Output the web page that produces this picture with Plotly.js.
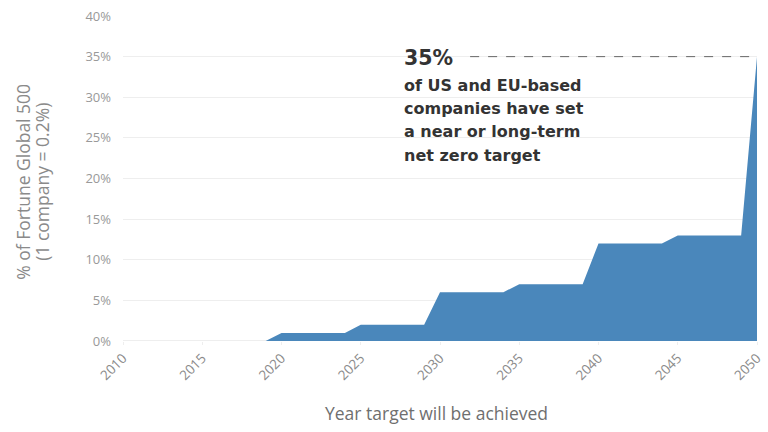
<!DOCTYPE html>
<html>
<head>
<meta charset="utf-8">
<script src="https://cdn.plot.ly/plotly-3.0.1.min.js"></script>
<style>html,body{margin:0;padding:0;background:#fff;}#chart{width:768px;height:432px;}</style>
</head>
<body>
<div id="chart"></div>
<script>
const years = [2010,2011,2012,2013,2014,2015,2016,2017,2018,2019,2020,2021,2022,2023,2024,2025,2026,2027,2028,2029,2030,2031,2032,2033,2034,2035,2036,2037,2038,2039,2040,2041,2042,2043,2044,2045,2046,2047,2048,2049,2050];
const pctSet = [0,0,0,0,0,0,0,0,0,0,1,1,1,1,1,2,2,2,2,2,6,6,6,6,6,7,7,7,7,7,12,12,12,12,12,13,13,13,13,13,35];
const xTicks = [2010,2015,2020,2025,2030,2035,2040,2045,2050];
const yTicks = [0,5,10,15,20,25,30,35,40];
const yTickLabels = ['0%','5%','10%','15%','20%','25%','30%','35%','40%'];
const yTitleLines = ['% of Fortune Global 500','(1 company = 0.2%)'];
const xTitle = 'Year target will be achieved';
const highlightValue = 35;
const highlightLabel = '35%';
const highlightText = ['of US and EU-based','companies have set','a near or long-term','net zero target'];

const trace = {
  x: years, y: pctSet, type: 'scatter', mode: 'lines',
  fill: 'tozeroy', fillcolor: '#4a87bb',
  line: {color: '#4a87bb', width: 0},
  hoverinfo: 'skip'
};

const annoFont = 'DejaVu Sans, sans-serif';
const annotations = [
  {x: 2027.7, y: 34.85, xref: 'x', yref: 'y', text: '<b>' + highlightLabel + '</b>',
   showarrow: false, xanchor: 'left', yanchor: 'middle', xshift: -2,
   font: {family: annoFont, size: 20.5, color: '#333'}}
];
highlightText.forEach((t, i) => {
  annotations.push({x: 2027.7, y: 31.5 - i * 2.87, xref: 'x', yref: 'y', text: '<b>' + t + '</b>',
    showarrow: false, xanchor: 'left', yanchor: 'middle', xshift: -2,
    font: {family: annoFont, size: 16, color: '#333'}});
});
yTitleLines.forEach((t, i) => {
  annotations.push({x: 0, y: 0.49, xref: 'paper', yref: 'paper', text: t,
    showarrow: false, textangle: -90, xanchor: 'center', yanchor: 'middle',
    xshift: -100 + i * 19,
    font: {family: 'Open Sans, sans-serif', size: 17.5, color: '#8a8a8a'}});
});
annotations.push({x: 0.495, y: 0, xref: 'paper', yref: 'paper', text: xTitle,
  showarrow: false, xanchor: 'center', yanchor: 'middle', yshift: -72,
  font: {family: 'Open Sans, sans-serif', size: 17.5, color: '#6f6f6f'}});

const layout = {
  width: 768, height: 432,
  margin: {l: 123, r: 11, t: 16, b: 91},
  paper_bgcolor: '#fff', plot_bgcolor: '#fff',
  showlegend: false,
  font: {family: 'Open Sans, sans-serif', color: '#999', size: 12},
  xaxis: {
    range: [2010, 2050], tickvals: xTicks, ticktext: xTicks.map(String),
    tickangle: -45, showgrid: false, zeroline: false, showline: false,
    ticks: 'outside', ticklen: 3, tickcolor: '#eeeeee',
    tickfont: {size: 13.5, color: '#8a8a8a'}
  },
  yaxis: {
    range: [0, 40], tickvals: yTicks, ticktext: yTickLabels,
    showgrid: true, gridcolor: '#eeeeee', zeroline: false, showline: false,
    ticks: '', ticklabelstandoff: 11,
    tickfont: {size: 13, color: '#999'}
  },
  shapes: [
    {type: 'line', xref: 'paper', yref: 'y', x0: 0, x1: 1, y0: 0, y1: 0, layer: 'below',
     line: {color: '#e8e8e8', width: 1.5}},
    {type: 'line', xref: 'x', yref: 'y', x0: 2031.9, x1: 2050, y0: highlightValue, y1: highlightValue,
     line: {color: '#666', width: 1, dash: 'dash'}}
  ],
  annotations: annotations
};

Plotly.newPlot('chart', [trace], layout, {displayModeBar: false, staticPlot: true});
</script>
</body>
</html>
